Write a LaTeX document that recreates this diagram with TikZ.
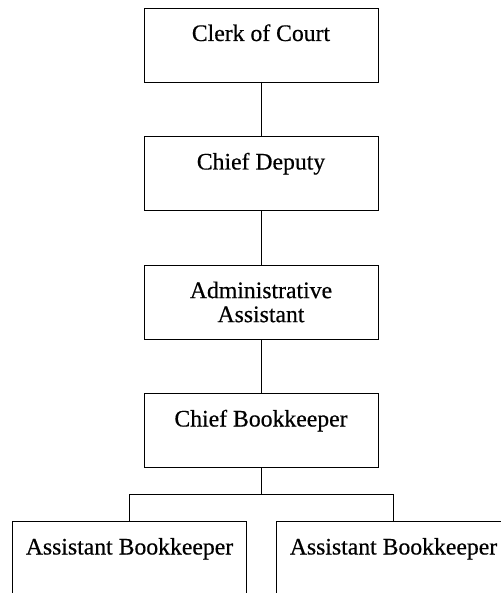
\documentclass[tikz,border=0pt]{standalone}
\usepackage{fontspec}
\setmainfont{Liberation Serif}[FakeBold=0.5]
\usepackage{tikz}
\usetikzlibrary{positioning}

\begin{document}
\begin{tikzpicture}[
    node distance=54.5pt,
    post/.style={rectangle, draw, line width=0.8pt, minimum width=234pt, minimum height=74pt,
        inner sep=0pt, outer sep=0pt, text height=33pt, text depth=41pt,
        font=\fontsize{23.7pt}{24pt}\selectfont},
    twopost/.style={rectangle, draw, line width=0.8pt, minimum width=234pt, minimum height=74pt,
        inner sep=0pt, outer sep=0pt, align=center,
        font=\fontsize{23.7pt}{24pt}\selectfont},
    link/.style={draw, line width=0.8pt}
]
\useasboundingbox (0pt,0pt) rectangle (500pt,-593pt);

% Top of the office
\node[post, anchor=north] (clerk) at (261pt,-8pt) {Clerk of Court};
\node[post, below=of clerk] (deputy) {Chief Deputy};
\node[twopost, below=of deputy] (admin) {Administrative\\Assistant};

% Bookkeeping
\node[post, below=of admin] (chief) {Chief Bookkeeper};
\node[post, below=54pt of chief, xshift=-131.5pt] (asstleft) {Assistant Bookkeeper};
\node[post, below=54pt of chief, xshift=132.5pt] (asstright) {Assistant Bookkeeper};
\coordinate[below=27pt of chief] (fork);

% Lines
\draw[link] (clerk) -- (deputy);
\draw[link] (deputy) -- (admin);
\draw[link] (admin) -- (chief);
\draw[link] (chief) -- (fork);
\draw[link] (asstleft.north) |- (fork) -| (asstright.north);

\end{tikzpicture}
\end{document}
